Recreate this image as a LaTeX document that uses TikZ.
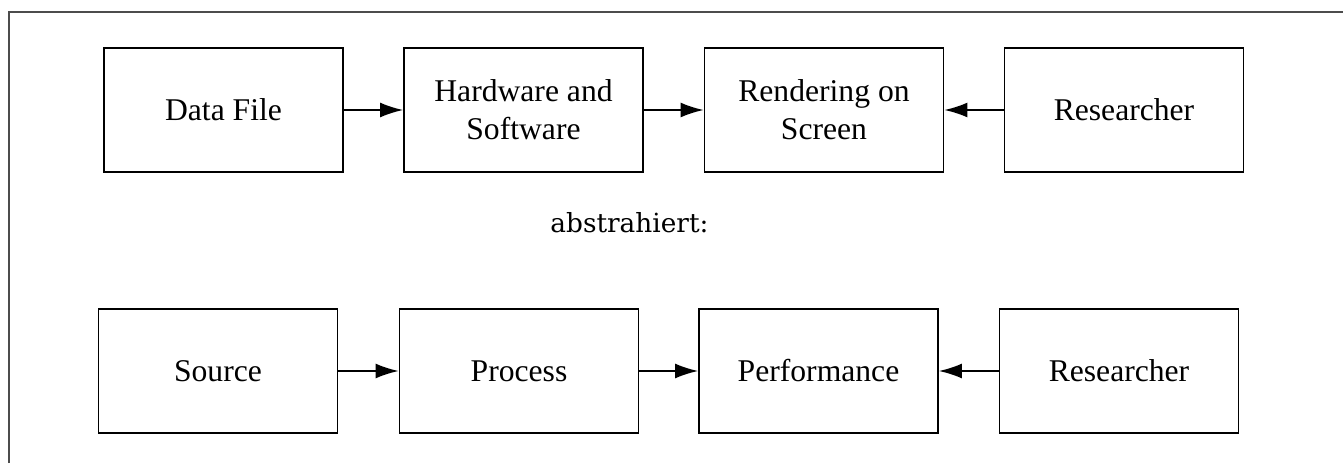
\documentclass[tikz,border=0pt]{standalone}
\usepackage{fontspec}
\setmainfont{Liberation Serif}
\newfontfamily\notefont{DejaVu Serif}
\usetikzlibrary{arrows.meta}
\tikzset{
	block/.style    = {draw, line width=1.1pt, rectangle, minimum height = 2.48cm,
		minimum width = 4.78cm, align=center, font=\fontsize{18}{21.5}\selectfont},
	note/.style     = {font=\notefont\fontsize{15}{18}\selectfont, anchor=base}
}

\begin{document}
\begin{tikzpicture}[auto, line width=0.9pt, >={Latex[length=4.6mm,width=3mm]}]
\useasboundingbox (0,0) rectangle (26.86,9.26);
\draw[line width=1pt, black!70] (0.18,0)--(0.18,9.02)--(26.86,9.02);
\draw
node at (4.47,7.06) [block] (b1) {Data File}
node at (10.47,7.06) [block] (b2) {Hardware and\\Software}
node at (16.48,7.06) [block] (b3) {Rendering on\\Screen}
node at (22.48,7.06) [block] (b4) {Researcher}
node at (12.59,4.60) [note] (n1) {abstrahiert:}
node at (4.36,1.84) [block] (c1) {Source}
node at (10.38,1.84) [block] (c2) {Process}
node at (16.37,1.84) [block] (c3) {Performance}
node at (22.38,1.84) [block] (c4) {Researcher};

\draw[->](b1)--(b2);
\draw[->](b2)--(b3);
\draw[->](b4)--(b3);
\draw[->](c1)--(c2);
\draw[->](c2)--(c3);
\draw[->](c4)--(c3);
\end{tikzpicture}
\end{document}
